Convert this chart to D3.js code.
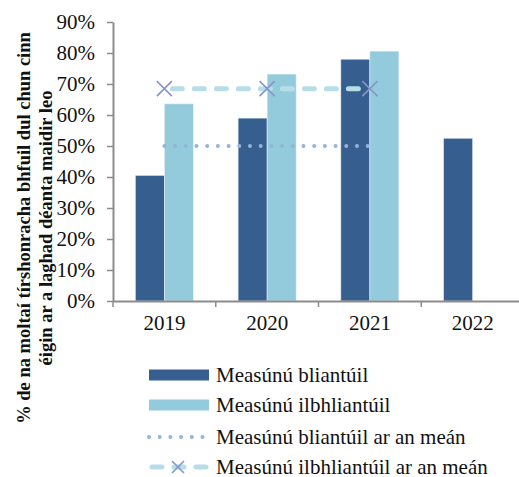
<!DOCTYPE html>
<html>
<head>
<meta charset="utf-8">
<script src="https://d3js.org/d3.v7.min.js"></script>
<style>
  body { margin: 0; background: #fff; }
  svg text { font-family: "Times New Roman", Times, serif; fill: #111; }
</style>
</head>
<body>
<svg id="chart" width="519" height="477"></svg>
<script>
// chart data
const years = ["2019", "2020", "2021", "2022"];
const annual = [0.405, 0.59, 0.78, 0.525];
const multiYear = [0.636, 0.732, 0.806, null];
const annualMean = [0.50, 0.50, 0.50];
const multiMean = [0.685, 0.685, 0.685];
const meanYears = ["2019", "2020", "2021"];
const yTicks = [0, 0.1, 0.2, 0.3, 0.4, 0.5, 0.6, 0.7, 0.8, 0.9];
const legendLabels = ["Measúnú bliantúil", "Measúnú ilbhliantúil",
  "Measúnú bliantúil ar an meán", "Measúnú ilbhliantúil ar an meán"];
const yLabel = ["% de na moltaí tírshonracha bhfuil dul chun cinn",
  "éigin ar a laghad déanta maidir leo"];

const serif = "'Times New Roman', Times, serif";
const darkBlue = "#365f8f", lightBlue = "#93cadc";
const dotColor = "#95b3d7", dashColor = "#b7dee8", crossColor = "#8497c9";

const svg = d3.select("#chart");

const x = d3.scaleBand().domain(years).range([113, 524])
  .paddingInner(0.435).paddingOuter(0.2175);
const sub = d3.scaleBand().domain(["a", "m"]).range([0, x.bandwidth()]);
const y = d3.scaleLinear().domain([0, 0.9]).range([301, 22]);
const center = d => x(d) + x.bandwidth() / 2;

// bars
const groups = svg.append("g").selectAll("g")
  .data(years).enter().append("g")
  .attr("transform", d => `translate(${x(d)},0)`);

groups.append("rect")
  .attr("x", sub("a"))
  .attr("width", sub.bandwidth())
  .attr("y", (d, i) => y(annual[i]))
  .attr("height", (d, i) => y(0) - y(annual[i]))
  .attr("fill", darkBlue)
  .attr("stroke", "#dfe8f2").attr("stroke-width", 0.6);

groups.filter((d, i) => multiYear[i] != null).append("rect")
  .attr("x", sub("m"))
  .attr("width", sub.bandwidth())
  .attr("y", d => y(multiYear[years.indexOf(d)]))
  .attr("height", d => y(0) - y(multiYear[years.indexOf(d)]))
  .attr("fill", lightBlue)
  .attr("stroke", "#e6f3f7").attr("stroke-width", 0.6);

// mean lines
const line = d3.line().x(d => center(d[0])).y(d => y(d[1]));

svg.append("path")
  .attr("d", line(meanYears.map((d, i) => [d, annualMean[i]])))
  .attr("fill", "none").attr("stroke", dotColor)
  .attr("stroke-width", 4).attr("stroke-linecap", "round")
  .attr("stroke-dasharray", "0 10.7");

svg.append("path")
  .attr("d", line(meanYears.map((d, i) => [d, multiMean[i]])))
  .attr("fill", "none").attr("stroke", dashColor)
  .attr("stroke-width", 5).attr("stroke-linecap", "round")
  .attr("stroke-dasharray", "10 12").attr("stroke-dashoffset", -8);

function cross(g, cx, cy, r) {
  g.append("path")
    .attr("d", `M${cx - r},${cy - r}L${cx + r},${cy + r}M${cx - r},${cy + r}L${cx + r},${cy - r}`)
    .attr("stroke", crossColor).attr("stroke-width", 1.6).attr("fill", "none");
}
meanYears.forEach((d, i) => cross(svg, center(d), y(multiMean[i]), 7.5));

// y axis
const yAxis = svg.append("g")
  .attr("transform", "translate(113,0)")
  .call(d3.axisLeft(y).tickValues(yTicks).tickFormat(d3.format(".0%"))
    .tickSize(6).tickSizeOuter(0).tickPadding(12));
yAxis.attr("font-family", serif);
yAxis.select(".domain").attr("stroke", "#8c8c8c").attr("stroke-width", 2);
yAxis.selectAll(".tick line").attr("stroke", "#8c8c8c").attr("stroke-width", 1.5);
yAxis.selectAll(".tick text").attr("font-size", 21).attr("fill", "#111")
  .style("font-family", serif);

// x axis
const xAxis = svg.append("g")
  .attr("transform", "translate(0,301)")
  .call(d3.axisBottom(x).tickSize(0).tickPadding(14));
xAxis.attr("font-family", serif);
xAxis.select(".domain").attr("stroke", "#8c8c8c").attr("stroke-width", 2);
xAxis.selectAll(".tick text").attr("font-size", 21).attr("fill", "#111")
  .style("font-family", serif);
xAxis.selectAll(".bound").data(years).enter().append("line")
  .attr("x1", d => x(d) - x.step() * x.paddingOuter())
  .attr("x2", d => x(d) - x.step() * x.paddingOuter())
  .attr("y1", 0).attr("y2", 6)
  .attr("stroke", "#8c8c8c").attr("stroke-width", 1.5);

// y label
const yl = svg.append("text")
  .attr("transform", "translate(30,228) rotate(-90)")
  .attr("text-anchor", "middle")
  .attr("font-size", 18.5).attr("font-weight", "bold")
  .style("font-family", serif);
yl.selectAll("tspan").data(yLabel).enter().append("tspan")
  .attr("x", 0).attr("dy", (d, i) => i ? 22 : 0).text(d => d);

// legend
const leg = svg.append("g").attr("transform", "translate(149,0)");
const rowY = [375, 405, 437, 467];
leg.append("rect").attr("x", 0).attr("y", rowY[0] - 5.5).attr("width", 60).attr("height", 11).attr("fill", darkBlue);
leg.append("rect").attr("x", 0).attr("y", rowY[1] - 5.5).attr("width", 60).attr("height", 11).attr("fill", lightBlue);
leg.append("line").attr("x1", 0).attr("x2", 58).attr("y1", rowY[2]).attr("y2", rowY[2])
  .attr("stroke", dotColor).attr("stroke-width", 4).attr("stroke-linecap", "round")
  .attr("stroke-dasharray", "0 10.7");
leg.append("line").attr("x1", 2).attr("x2", 58).attr("y1", rowY[3]).attr("y2", rowY[3])
  .attr("stroke", dashColor).attr("stroke-width", 5).attr("stroke-linecap", "round")
  .attr("stroke-dasharray", "10 12").attr("stroke-dashoffset", -1);
cross(leg, 29, rowY[3], 6);
leg.selectAll(".lt").data(legendLabels).enter().append("text")
  .attr("x", 67).attr("y", (d, i) => rowY[i]).attr("dy", "0.35em")
  .attr("font-size", 21).style("font-family", serif).text(d => d);
</script>
</body>
</html>
